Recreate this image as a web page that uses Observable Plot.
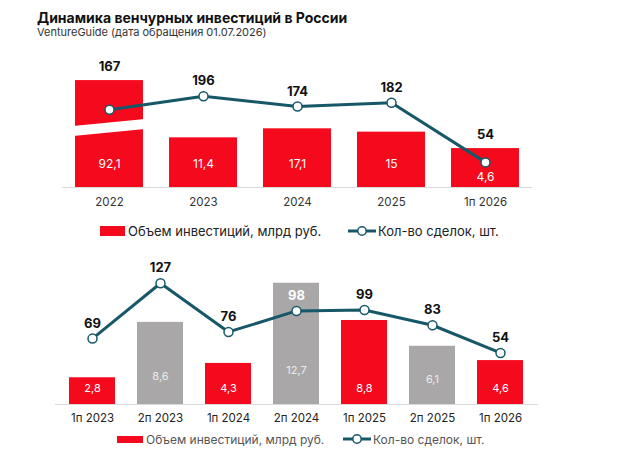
<!DOCTYPE html>
<html><head><meta charset="utf-8">
<script src="https://cdn.jsdelivr.net/npm/d3@7"></script>
<script src="https://cdn.jsdelivr.net/npm/@observablehq/plot@0.6"></script>
<style>
body{margin:0;width:624px;height:467px;position:relative;background:#fff;font-family:Inter,"DejaVu Sans",sans-serif;overflow:hidden}
.abs{position:absolute}
.leg{display:flex;align-items:center;white-space:nowrap}
</style></head><body>
<div class="abs" style="left:37px;top:9px;font-weight:700;font-size:14px;color:#111">Динамика венчурных инвестиций в России</div>
<div class="abs" style="left:37px;top:25px;font-size:11px;color:#333">VentureGuide (дата обращения 01.07.2026)</div>
<div id="c1" class="abs" style="left:0;top:40px"></div>
<div id="leg1" class="abs" style="left:0;top:222px;width:624px;height:20px"></div>
<div id="c2" class="abs" style="left:0;top:250px"></div>
<div id="leg2" class="abs" style="left:0;top:431px;width:624px;height:18px"></div>
<script>
// ---- data ----
const periods1 = ["2022", "2023", "2024", "2025", "1п 2026"];
const invest1 = [92.1, 11.4, 17.1, 15, 4.6];      // млрд руб.
const deals1 = [167, 196, 174, 182, 54];          // шт.

const periods2 = ["1п 2023", "2п 2023", "1п 2024", "2п 2024", "1п 2025", "2п 2025", "1п 2026"];
const invest2 = [2.8, 8.6, 4.3, 12.7, 8.8, 6.1, 4.6];
const deals2 = [69, 127, 76, 98, 99, 83, 54];

const RED = "#f5091c", TEAL = "#175868", GRAY = "#a9a7a7";
const fmt = v => String(v).replace(".", ",");

// ---- top chart ----
// secondary (investment) axis mapped onto the deals axis
const invMin = -20, invK = 3.4;
const inv2y = v => (v - invMin) * invK;
const breakCap = 47.6;      // axis break for the 2022 bar
const breakAt = 128;        // deals-axis units where the break gap is drawn
const pxPerU1 = 147 / 316;

const d1 = periods1.map((p, i) => ({
  period: p, inv: invest1[i], deals: deals1[i],
  top: inv2y(Math.min(invest1[i], breakCap))
}));

const p1 = Plot.plot({
  width: 624, height: 170, marginLeft: 62, marginRight: 92, marginTop: 0, marginBottom: 23,
  style: {fontFamily: "Inter, sans-serif", background: "transparent"},
  x: {domain: periods1, paddingInner: 0.277, paddingOuter: 0.1385, label: null},
  y: {domain: [0, 316], axis: null},
  marks: [
    Plot.barY(d1, {x: "period", y1: 0, y2: "top", fill: RED}),
    Plot.ruleY([0], {stroke: "#d9d9d9", strokeWidth: 1.2}),
    Plot.axisX({tickSize: 0, tickPadding: 10, fontSize: 11.5, fill: "#333", label: null}),
    Plot.text(d1, {x: "period", y: d => Math.min(23 / pxPerU1, d.deals - 15 / pxPerU1), text: d => fmt(d.inv), fill: "#fff", fontSize: 12}),
    Plot.line(d1, {x: "period", y: "deals", stroke: TEAL, strokeWidth: 3}),
    Plot.dot(d1, {x: "period", y: "deals", r: 4.5, fill: "#fff", stroke: TEAL, strokeWidth: 1.5}),
    Plot.text(d1, {x: "period", y: d => Math.max(d.deals + 15 / pxPerU1, d.top + 14 / pxPerU1), text: d => String(d.deals), fontWeight: 700, fontSize: 13, fill: "#111"})
  ]
});
// axis-break gap on the 2022 bar, placed with the plot's own scales
{
  const sx = p1.scale("x"), sy = p1.scale("y");
  const x0 = sx.apply("2022"), bw = sx.bandwidth;
  const ym = sy.apply(breakAt);
  const yl = ym + 3.5, yr = ym - 3.5, h = 5;
  const poly = document.createElementNS("http://www.w3.org/2000/svg", "polygon");
  poly.setAttribute("points", `${x0-2},${yl-h} ${x0+bw+2},${yr-h} ${x0+bw+2},${yr+h} ${x0-2},${yl+h}`);
  poly.setAttribute("fill", "#fff");
  const barG = p1.querySelector('g[aria-label="bar"]');
  barG.parentNode.insertBefore(poly, barG.nextSibling);
}
document.getElementById("c1").appendChild(p1);

// ---- bottom chart ----
const invScale2 = 10;
const pxPerU2 = 154 / 161.3;
const d2 = periods2.map((p, i) => ({
  period: p, inv: invest2[i], deals: deals2[i], top: invest2[i] * invScale2,
  h1: p.startsWith("1п")
}));
const p2 = Plot.plot({
  width: 624, height: 176, marginLeft: 55, marginRight: 86, marginTop: 0, marginBottom: 22,
  style: {fontFamily: "Inter, sans-serif", background: "transparent"},
  x: {domain: periods2, paddingInner: 0.319, paddingOuter: 0.16, label: null},
  y: {domain: [0, 161.3], axis: null},
  marks: [
    Plot.barY(d2, {x: "period", y1: 0, y2: "top", fill: d => d.h1 ? RED : GRAY}),
    Plot.ruleY([0], {stroke: "#d9d9d9", strokeWidth: 1.2}),
    Plot.axisX({tickSize: 0, tickPadding: 9, fontSize: 11.5, fill: "#222", label: null}),
    Plot.text(d2, {x: "period",
      y: d => d.h1 ? 16 / pxPerU2 : (0.15 * d.top * pxPerU2 + 16) / pxPerU2,
      text: d => fmt(d.inv), fill: d => d.h1 ? "#fff" : "#ececec", fontSize: 11}),
    Plot.line(d2, {x: "period", y: "deals", stroke: TEAL, strokeWidth: 3}),
    Plot.dot(d2, {x: "period", y: "deals", r: 4.5, fill: "#fff", stroke: TEAL, strokeWidth: 1.5}),
    Plot.text(d2, {x: "period", y: d => d.deals + 15 / pxPerU2, text: d => String(d.deals),
      fontWeight: 700, fontSize: 13, fill: d => (d.deals + 15 / pxPerU2 < d.top) ? "#fff" : "#111"})
  ]
});
document.getElementById("c2").appendChild(p2);

// ---- legends ----
function legend(el, o) {
  el.innerHTML = `
  <div class="leg abs" style="left:${o.rx}px;top:0;height:${o.h}px">
    <span style="display:inline-block;width:${o.rw}px;height:${o.rh}px;background:${RED}"></span>
    <span style="margin-left:3px;font-size:${o.fs}px;color:${o.col}">Объем инвестиций, млрд руб.</span>
  </div>
  <div class="leg abs" style="left:${o.lx}px;top:0;height:${o.h}px">
    <svg width="28" height="12" style="display:block"><line x1="0" x2="28" y1="6" y2="6" stroke="${TEAL}" stroke-width="3"/><circle cx="14" cy="6" r="4.2" fill="#fff" stroke="${TEAL}" stroke-width="1.5"/></svg>
    <span style="margin-left:2px;font-size:${o.fs}px;color:${o.col}">Кол-во сделок, шт.</span>
  </div>`;
}
legend(document.getElementById("leg1"), {rx: 100, rw: 25, rh: 10, lx: 348, h: 18, fs: 13, col: "#222"});
legend(document.getElementById("leg2"), {rx: 117, rw: 26, rh: 7, lx: 343, h: 16, fs: 12, col: "#555"});
</script>
</body></html>
